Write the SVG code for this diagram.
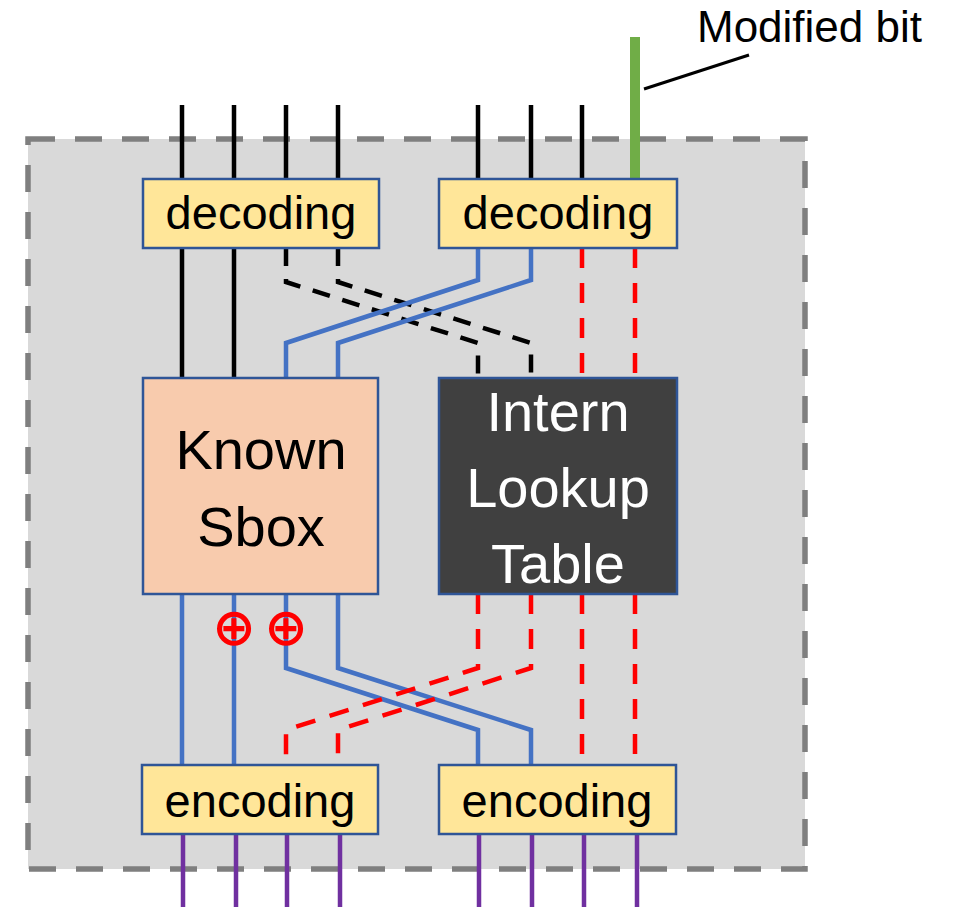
<svg xmlns="http://www.w3.org/2000/svg" width="967" height="907" viewBox="0 0 967 907">
  <style>
    .lbl { font-family: "Liberation Sans", Arial, sans-serif; text-anchor: middle; }
    .coder { fill: #ffe699; stroke: #2f5597; stroke-width: 2.5; }
    .wire { fill: none; stroke-width: 4.5; stroke-linejoin: miter; }
    .blk { stroke: #000000; }
    .blu { stroke: #4472c4; }
    .red { stroke: #ff0000; stroke-dasharray: 20 15; }
    .dsh { stroke: #000000; stroke-dasharray: 18 13; }
    .pur { stroke: #7030a0; }
    .xor { font-family: "DejaVu Sans", sans-serif; font-weight: bold; fill: #ff0000; text-anchor: middle; }
  </style>

  <!-- enclosing white-box boundary -->
  <rect id="boundary" x="28" y="139" width="777" height="730" fill="#d9d9d9" stroke="#7f7f7f" stroke-width="5.5" stroke-dasharray="27 20"/>

  <g id="connectors">
    <!-- inputs entering the decoders -->
    <path class="wire blk" d="M182 105V179M234 105V179M286 105V179M338 105V179"/>
    <path class="wire blk" d="M478 105V179M531 105V179M582 105V179"/>
    <line x1="635" y1="37" x2="635" y2="179" stroke="#70ad47" stroke-width="10"/>
    <line x1="644" y1="89" x2="749" y2="55" stroke="#000000" stroke-width="3"/>

    <!-- decoder outputs to the sbox and lookup table -->
    <path class="wire blk" d="M182 248V378M234 248V378"/>
    <path class="wire dsh" d="M286 248V282L478 343V378"/>
    <path class="wire dsh" d="M338 248V282L531 343V378"/>
    <path class="wire blu" d="M478 248V280L286 343V378"/>
    <path class="wire blu" d="M531 248V280L338 343V378"/>
    <path class="wire red" d="M582 248V378M635 248V378"/>

    <!-- sbox / lookup table outputs to the encoders -->
    <path class="wire blu" d="M182 594V765M234 594V765"/>
    <path class="wire blu" d="M286 594V668L478 730V765"/>
    <path class="wire blu" d="M338 594V668L531 730V765"/>
    <path class="wire red" d="M478 594V668L286 730V765"/>
    <path class="wire red" d="M531 594V668L338 730V765"/>
    <path class="wire red" d="M582 594V765M635 594V765"/>

    <!-- encoded outputs -->
    <path class="wire pur" d="M183 834V907M236 834V907M287 834V907M340 834V907"/>
    <path class="wire pur" d="M479 834V907M532 834V907M584 834V907M637 834V907"/>
  </g>

  <g id="xor-marks">
    <text class="xor" x="234" y="645" font-size="52">⊕</text>
    <text class="xor" x="286" y="645" font-size="52">⊕</text>
  </g>

  <g id="decoding-left">
    <rect class="coder" x="143" y="179" width="236" height="69"/>
    <text class="lbl" x="261" y="229" font-size="47">decoding</text>
  </g>
  <g id="decoding-right">
    <rect class="coder" x="439" y="179" width="238" height="69"/>
    <text class="lbl" x="558" y="229" font-size="47">decoding</text>
  </g>

  <g id="known-sbox">
    <rect x="143" y="378" width="235" height="216" fill="#f8cbad" stroke="#2f5597" stroke-width="2.5"/>
    <text class="lbl" x="261" y="469" font-size="56">Known</text>
    <text class="lbl" x="261" y="546" font-size="56">Sbox</text>
  </g>

  <g id="lookup-table">
    <rect x="439" y="378" width="238" height="216" fill="#404040" stroke="#2f5597" stroke-width="2.5"/>
    <text class="lbl" x="558" y="431" font-size="56" fill="#ffffff">Intern</text>
    <text class="lbl" x="558" y="507" font-size="56" fill="#ffffff">Lookup</text>
    <text class="lbl" x="558" y="583" font-size="56" fill="#ffffff">Table</text>
  </g>

  <g id="encoding-left">
    <rect class="coder" x="142" y="765" width="236" height="69"/>
    <text class="lbl" x="260" y="817" font-size="47">encoding</text>
  </g>
  <g id="encoding-right">
    <rect class="coder" x="439" y="765" width="237" height="69"/>
    <text class="lbl" x="557" y="817" font-size="47">encoding</text>
  </g>

  <g id="modified-bit-label">
    <text x="697" y="42" font-family="Liberation Sans, Arial, sans-serif" font-size="44">Modified bit</text>
  </g>
</svg>
